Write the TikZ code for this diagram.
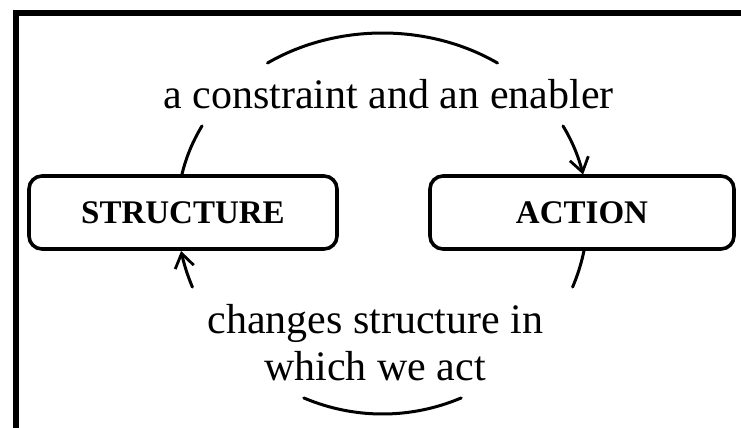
\documentclass[tikz,border=0pt]{standalone}
\usepackage{fontspec}
\setmainfont{Liberation Serif}
\usetikzlibrary{arrows.meta}

\tikzset{
  box/.style={draw, line width=3.6pt, rounded corners=13pt, minimum height=73pt,
    inner sep=0pt, font=\fontsize{33}{36}\selectfont\bfseries},
  caption/.style={inner sep=0pt, anchor=base, font=\fontsize{42}{47}\selectfont},
  loop arc/.style={line width=3pt, line cap=round},
  loop arrow/.style={loop arc, {Straight Barb[length=14pt,width=19pt,line width=2.8pt]}-},
  frame/.style={line width=6pt},
}

% point on the (slightly egg-shaped) cycle drawn round the two boxes
\pgfmathdeclarefunction{cycx}{1}{\pgfmathparse{382.5+(205+10*sin(#1))*cos(#1)}}
\pgfmathdeclarefunction{cycy}{1}{\pgfmathparse{223.5-190.5*sin(#1)}}

\begin{document}
\begin{tikzpicture}[x=1pt, y=-1pt]
  \useasboundingbox (0,0) rectangle (741,428);
  \clip (0,0) rectangle (741,428);
  \fill[white] (0,0) rectangle (741,428);

  % outer frame, running off the right and bottom edges
  \draw[frame] (15.5,13) rectangle (800,500);

  % the two boxes
  \node[box, minimum width=308pt] (structure) at (183,212.5) {STRUCTURE};
  \node[box, minimum width=304pt] (action) at (582,212.5) {ACTION};

  % labels on the cycle
  \node[caption] (constraint) at (388.5,108.5) {a constraint and an enabler};
  \node[caption] (changes) at (375.5,333) {changes structure in};
  \node[caption] (whichact) at (375,380) {which we act};

  % upper half: structure -> action
  \draw[loop arc] plot[domain=149.2:165.6, samples=20] ({cycx(\x)},{cycy(\x)});
  \draw[loop arc] plot[domain=57.4:122.6, samples=60] ({cycx(\x)},{cycy(\x)});
  \draw[loop arrow] plot[domain=14.9:30.8, samples=20] ({cycx(\x)},{cycy(\x)});

  % lower half: action -> structure
  \draw[loop arc] plot[domain=-19.5:-7.7, samples=20] ({cycx(\x)},{cycy(\x)});
  \draw[loop arc] plot[domain=246.3:293.7, samples=60] ({cycx(\x)},{cycy(\x)});
  \draw[loop arrow] plot[domain=188.3:199.5, samples=20] ({cycx(\x)},{cycy(\x)});
\end{tikzpicture}
\end{document}
